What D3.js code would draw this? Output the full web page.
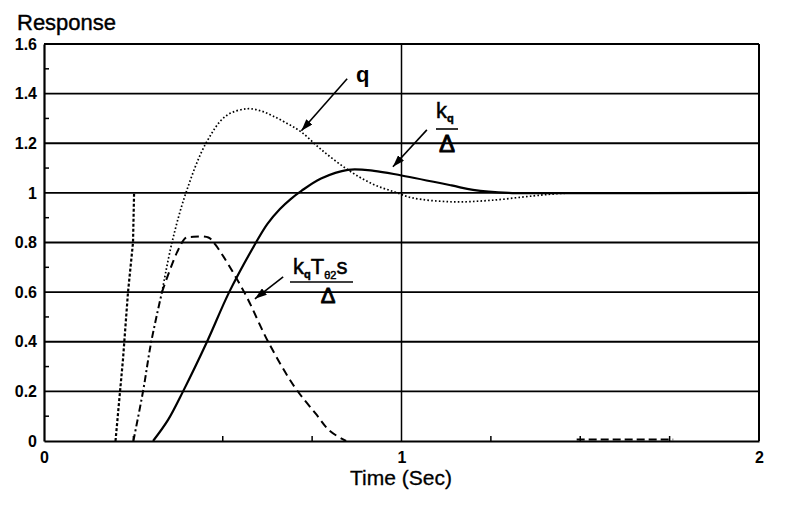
<!DOCTYPE html>
<html><head><meta charset="utf-8">
<script src="https://cdn.jsdelivr.net/npm/d3@7"></script>
<style>body{margin:0;background:#fff}svg{display:block}text{font-family:"Liberation Sans",Arial,Helvetica,sans-serif;fill:#000}</style>
</head><body><svg id="c" width="787" height="510"></svg>
<script>
// ---- data ----
const xTickVals = [0, 1, 2];
const xTickLabels = ["0", "1", "2"];
const xMinorTicks = [0.25, 0.5, 0.75, 1.25, 1.5, 1.75];
const yTickVals = [0, 0.2, 0.4, 0.6, 0.8, 1, 1.2, 1.4, 1.6];
const yTickLabels = ["0", "0.2", "0.4", "0.6", "0.8", "1", "1.2", "1.4", "1.6"];
const yMinorTicks = [0.1, 0.3, 0.5, 0.7, 0.9, 1.1, 1.3, 1.5];

const stepT = [0.2, 0.221, 0.235, 0.249, 0.252];
const stepV = [0, 0.33, 0.6, 0.8, 1.0];

const commonT = [0.25, 0.277, 0.30, 0.33];
const commonV = [0, 0.2, 0.4, 0.6];

const qT = [0.33, 0.358, 0.397, 0.453, 0.509, 0.568, 0.607, 0.64, 0.68, 0.72, 0.775, 0.85, 0.92, 0.98, 1.03, 1.14, 1.25, 1.37, 1.45, 1.6, 2.0];
const qV = [0.6, 0.8, 1.0, 1.2, 1.31, 1.339, 1.33, 1.31, 1.28, 1.245, 1.175, 1.093, 1.035, 1.004, 0.98, 0.964, 0.97, 0.988, 0.998, 1.0, 1.0];

const kT = [0.305, 0.347, 0.389, 0.456, 0.518, 0.593, 0.625, 0.66, 0.69, 0.72, 0.775, 0.85, 0.923, 1.0, 1.14, 1.2, 1.3, 1.4, 2.0];
const kV = [0, 0.085, 0.2, 0.4, 0.6, 0.8, 0.875, 0.935, 0.975, 1.008, 1.058, 1.093, 1.089, 1.07, 1.03, 1.012, 1.0, 0.999, 1.0];

const dT = [0.33, 0.372, 0.397, 0.41, 0.46, 0.48, 0.56, 0.627, 0.70, 0.76, 0.80, 0.845];
const dV = [0.6, 0.76, 0.82, 0.822, 0.82, 0.79, 0.6, 0.4, 0.22, 0.11, 0.04, 0];

const dTailT = [1.49, 1.76];
const dTailV = [0.006, 0.006];

// ---- drawing ----
const svg = d3.select("#c");
const x = d3.scaleLinear().domain([0, 2]).range([44, 759]);
const y = d3.scaleLinear().domain([0, 1.6]).range([441, 44]);
const zip = (a, b) => a.map((t, i) => [t, b[i]]);

svg.append("defs").append("marker").attr("id", "ah")
  .attr("viewBox", "0 0 12 8").attr("refX", 12).attr("refY", 4)
  .attr("markerWidth", 12).attr("markerHeight", 8).attr("markerUnits", "userSpaceOnUse")
  .attr("orient", "auto")
  .append("path").attr("d", "M0,0L12,4L0,8Z").attr("fill", "#000");

const g = svg.append("g");
g.selectAll(".hg").data(yTickVals.filter(v => v > 0)).join("line")
  .attr("x1", x(0)).attr("x2", x(2)).attr("y1", d => y(d)).attr("y2", d => y(d))
  .attr("stroke", "#000").attr("stroke-width", 1.8);
g.selectAll(".vg").data([1, 2]).join("line")
  .attr("x1", d => x(d)).attr("x2", d => x(d)).attr("y1", y(0)).attr("y2", y(1.6))
  .attr("stroke", "#000").attr("stroke-width", d => d === 1 ? 1.5 : 2);

const xAxis = d3.axisBottom(x).tickValues(xTickVals).tickFormat((d, i) => xTickLabels[i]).tickSize(0).tickPadding(11);
const yAxis = d3.axisLeft(y).tickValues(yTickVals).tickFormat((d, i) => yTickLabels[i]).tickSize(0).tickPadding(7);
const ax = svg.append("g").attr("transform", `translate(0,${y(0)})`).call(xAxis);
const ay = svg.append("g").attr("transform", `translate(${x(0)},0)`).call(yAxis);
[ax, ay].forEach(a => {
  a.select(".domain").attr("stroke", "#000").attr("stroke-width", 2.2);
  a.selectAll("text").attr("font-size", 16).attr("font-weight", "bold")
    .attr("font-family", "Liberation Sans, Arial, sans-serif");
});
svg.selectAll(".xm").data(xMinorTicks).join("line")
  .attr("x1", d => x(d)).attr("x2", d => x(d)).attr("y1", y(0)).attr("y2", y(0) - 5)
  .attr("stroke", "#000").attr("stroke-width", 1.5);
svg.selectAll(".ym").data(yMinorTicks).join("line")
  .attr("x1", x(0)).attr("x2", x(0) + 5).attr("y1", d => y(d)).attr("y2", d => y(d))
  .attr("stroke", "#000").attr("stroke-width", 1.5);

const lineM = d3.line().x(d => x(d[0])).y(d => y(d[1])).curve(d3.curveCatmullRom.alpha(0.5));
const lineL = d3.line().x(d => x(d[0])).y(d => y(d[1]));
const series = [
  {pts: zip(stepT, stepV), gen: lineL, dash: "3,2", w: 2.2},
  {pts: zip(commonT, commonV), gen: lineM, dash: "7,3,2,3", w: 2},
  {pts: zip(qT, qV), gen: lineM, dash: "1.6,2.2", w: 1.7},
  {pts: zip(kT, kV), gen: lineM, dash: null, w: 2.2},
  {pts: zip(dT, dV), gen: lineM, dash: "8,5", w: 2},
  {pts: zip(dTailT, dTailV), gen: lineL, dash: "8,4", w: 2}
];
svg.selectAll(".s").data(series).join("path")
  .attr("d", d => d.gen(d.pts)).attr("fill", "none").attr("stroke", "#000")
  .attr("stroke-width", d => d.w).attr("stroke-dasharray", d => d.dash);

const arrows = [
  [[0.848, 1.46], [0.72, 1.25]],
  [[1.071, 1.254], [0.976, 1.105]],
  [[0.669, 0.661], [0.590, 0.573]]
];
svg.selectAll(".ar").data(arrows).join("line")
  .attr("x1", d => x(d[0][0])).attr("y1", d => y(d[0][1]))
  .attr("x2", d => x(d[1][0])).attr("y2", d => y(d[1][1]))
  .attr("stroke", "#000").attr("stroke-width", 1.6).attr("marker-end", "url(#ah)");

svg.append("text").attr("x", 17).attr("y", 30).attr("font-size", 22).attr("stroke", "#000").attr("stroke-width", 0.4).text("Response");
svg.append("text").attr("x", 401).attr("y", 485).attr("text-anchor", "middle").attr("font-size", 21).attr("stroke", "#000").attr("stroke-width", 0.3).text("Time (Sec)");

svg.append("text").attr("x", 356).attr("y", 82).attr("font-size", 22).attr("font-weight", "bold").text("q");

const t1 = svg.append("text").attr("x", 436).attr("y", 118).attr("font-size", 22).attr("stroke", "#000").attr("stroke-width", 0.5);
t1.append("tspan").text("k");
t1.append("tspan").attr("font-size", 11).attr("font-weight", "bold").attr("dy", 4).text("q");
svg.append("line").attr("x1", 436).attr("x2", 458).attr("y1", 129).attr("y2", 129).attr("stroke", "#000").attr("stroke-width", 1.6);
svg.append("text").attr("x", 447).attr("y", 152).attr("text-anchor", "middle").attr("font-size", 24).attr("stroke", "#000").attr("stroke-width", 0.9).text("Δ");

const t2 = svg.append("text").attr("x", 293).attr("y", 274).attr("font-size", 22).attr("stroke", "#000").attr("stroke-width", 0.5);
t2.append("tspan").text("k");
t2.append("tspan").attr("font-size", 11).attr("font-weight", "bold").attr("dy", 4).text("q");
t2.append("tspan").attr("dy", -4).text("T");
t2.append("tspan").attr("font-size", 11).attr("dy", 5).text("θ2");
t2.append("tspan").attr("dy", -5).text("s");
svg.append("line").attr("x1", 290).attr("x2", 353).attr("y1", 282).attr("y2", 282).attr("stroke", "#000").attr("stroke-width", 1.6);
svg.append("text").attr("x", 328).attr("y", 303).attr("text-anchor", "middle").attr("font-size", 22).attr("stroke", "#000").attr("stroke-width", 0.9).text("Δ");
</script></body></html>
